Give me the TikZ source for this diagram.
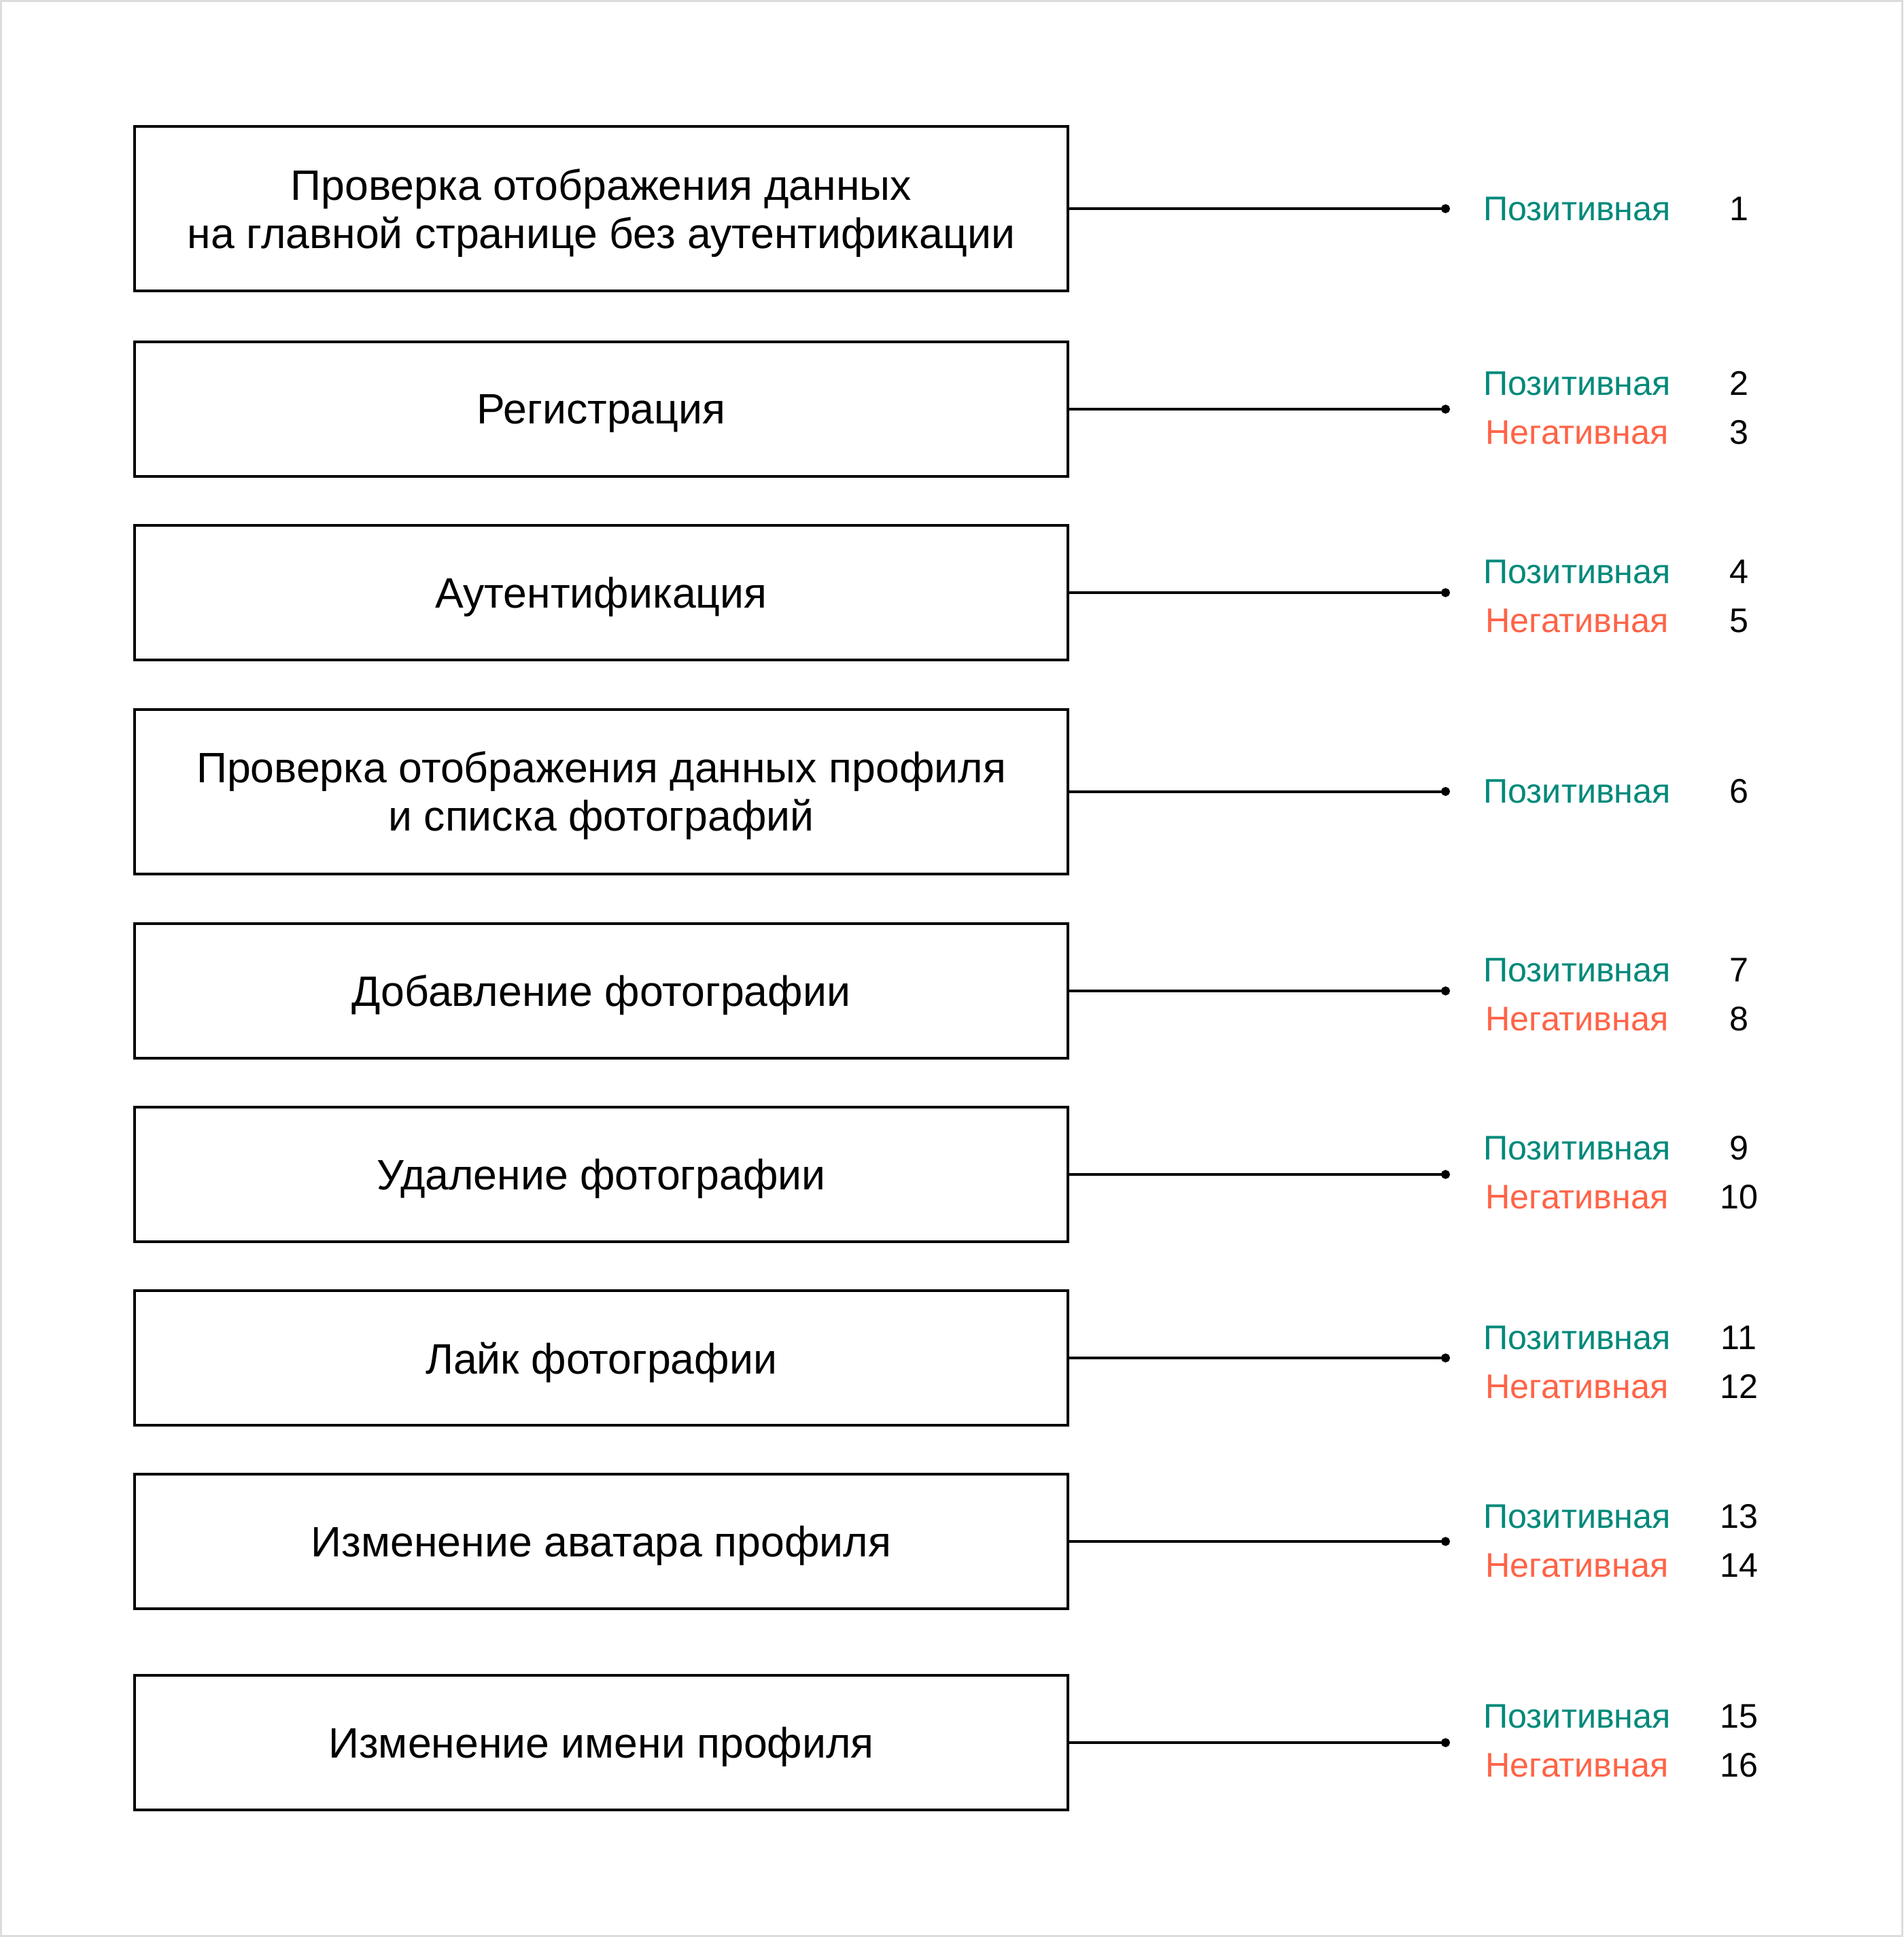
\documentclass[tikz,border=0pt]{standalone}
\usepackage{fontspec}
\setmainfont{Liberation Sans}
\usetikzlibrary{positioning, arrows.meta}
\definecolor{posGreen}{RGB}{0,137,122}
\definecolor{negRed}{RGB}{255,99,71}
\definecolor{frameGray}{RGB}{220,220,220}

\begin{document}
\begin{tikzpicture}[every node/.style={align=center, inner sep=0pt},
		testBox/.style={
				draw, line width=0.04cm,
				minimum width=13.73cm, minimum height=1.98cm,
				text depth=0pt,
				font=\fontsize{17.8}{20.2}\selectfont
			},
		tallBox/.style={testBox, minimum height=2.42cm},
		posLabel/.style={text=posGreen, font=\fontsize{14.3}{17}\selectfont},
		negLabel/.style={text=negRed, font=\fontsize{14.3}{17}\selectfont},
		numLabel/.style={font=\fontsize{14.3}{17}\selectfont},
		connector/.style={line width=0.04cm, -{Circle[length=0.13cm]}}
	]

	% Frame
	\useasboundingbox (0,0) rectangle (28,-28.5);
	\draw[frameGray, line width=0.03cm] (0.015,-0.015) rectangle (27.985,-28.485);

	% Test boxes
	\node[tallBox] (T1) at (8.845,-3.07) {Проверка отображения данных\\на главной странице без аутентификации};
	\node[testBox] (T2) at (8.845,-6.02) {Регистрация};
	\node[testBox] (T3) at (8.845,-8.72) {Аутентификация};
	\node[tallBox] (T4) at (8.845,-11.645) {Проверка отображения данных профиля\\и списка фотографий};
	\node[testBox] (T5) at (8.845,-14.58) {Добавление фотографии};
	\node[testBox] (T6) at (8.845,-17.28) {Удаление фотографии};
	\node[testBox] (T7) at (8.845,-19.98) {Лайк фотографии};
	\node[testBox] (T8) at (8.845,-22.68) {Изменение аватара профиля};
	\node[testBox] (T9) at (8.845,-25.64) {Изменение имени профиля};

	% Dots
	\coordinate (D1) at (21.33,-3.07);
	\coordinate (D2) at (21.33,-6.02);
	\coordinate (D3) at (21.33,-8.72);
	\coordinate (D4) at (21.33,-11.645);
	\coordinate (D5) at (21.33,-14.58);
	\coordinate (D6) at (21.33,-17.28);
	\coordinate (D7) at (21.33,-19.98);
	\coordinate (D8) at (21.33,-22.68);
	\coordinate (D9) at (21.33,-25.64);

	\draw[connector] (T1.east) -- (D1);
	\draw[connector] (T2.east) -- (D2);
	\draw[connector] (T3.east) -- (D3);
	\draw[connector] (T4.east) -- (D4);
	\draw[connector] (T5.east) -- (D5);
	\draw[connector] (T6.east) -- (D6);
	\draw[connector] (T7.east) -- (D7);
	\draw[connector] (T8.east) -- (D8);
	\draw[connector] (T9.east) -- (D9);

	% Case labels
	\node[posLabel] (P1) at (23.2,-3.07) {Позитивная};
	\node[numLabel] (N1) at (25.58,-3.07) {1};

	\node[posLabel] (P2) at (23.2,-5.64) {Позитивная};
	\node[numLabel] (N2) at (25.58,-5.64) {2};
	\node[negLabel] (M2) at (23.2,-6.36) {Негативная};
	\node[numLabel] (N3) at (25.58,-6.36) {3};

	\node[posLabel] (P3) at (23.2,-8.41) {Позитивная};
	\node[numLabel] (N4) at (25.58,-8.41) {4};
	\node[negLabel] (M3) at (23.2,-9.13) {Негативная};
	\node[numLabel] (N5) at (25.58,-9.13) {5};

	\node[posLabel] (P4) at (23.2,-11.645) {Позитивная};
	\node[numLabel] (N6) at (25.58,-11.645) {6};

	\node[posLabel] (P5) at (23.2,-14.27) {Позитивная};
	\node[numLabel] (N7) at (25.58,-14.27) {7};
	\node[negLabel] (M5) at (23.2,-14.99) {Негативная};
	\node[numLabel] (N8) at (25.58,-14.99) {8};

	\node[posLabel] (P6) at (23.2,-16.89) {Позитивная};
	\node[numLabel] (N9) at (25.58,-16.89) {9};
	\node[negLabel] (M6) at (23.2,-17.61) {Негативная};
	\node[numLabel] (N10) at (25.58,-17.61) {10};

	\node[posLabel] (P7) at (23.2,-19.68) {Позитивная};
	\node[numLabel] (N11) at (25.58,-19.68) {11};
	\node[negLabel] (M7) at (23.2,-20.40) {Негативная};
	\node[numLabel] (N12) at (25.58,-20.40) {12};

	\node[posLabel] (P8) at (23.2,-22.31) {Позитивная};
	\node[numLabel] (N13) at (25.58,-22.31) {13};
	\node[negLabel] (M8) at (23.2,-23.03) {Негативная};
	\node[numLabel] (N14) at (25.58,-23.03) {14};

	\node[posLabel] (P9) at (23.2,-25.25) {Позитивная};
	\node[numLabel] (N15) at (25.58,-25.25) {15};
	\node[negLabel] (M9) at (23.2,-25.97) {Негативная};
	\node[numLabel] (N16) at (25.58,-25.97) {16};
\end{tikzpicture}
\end{document}
